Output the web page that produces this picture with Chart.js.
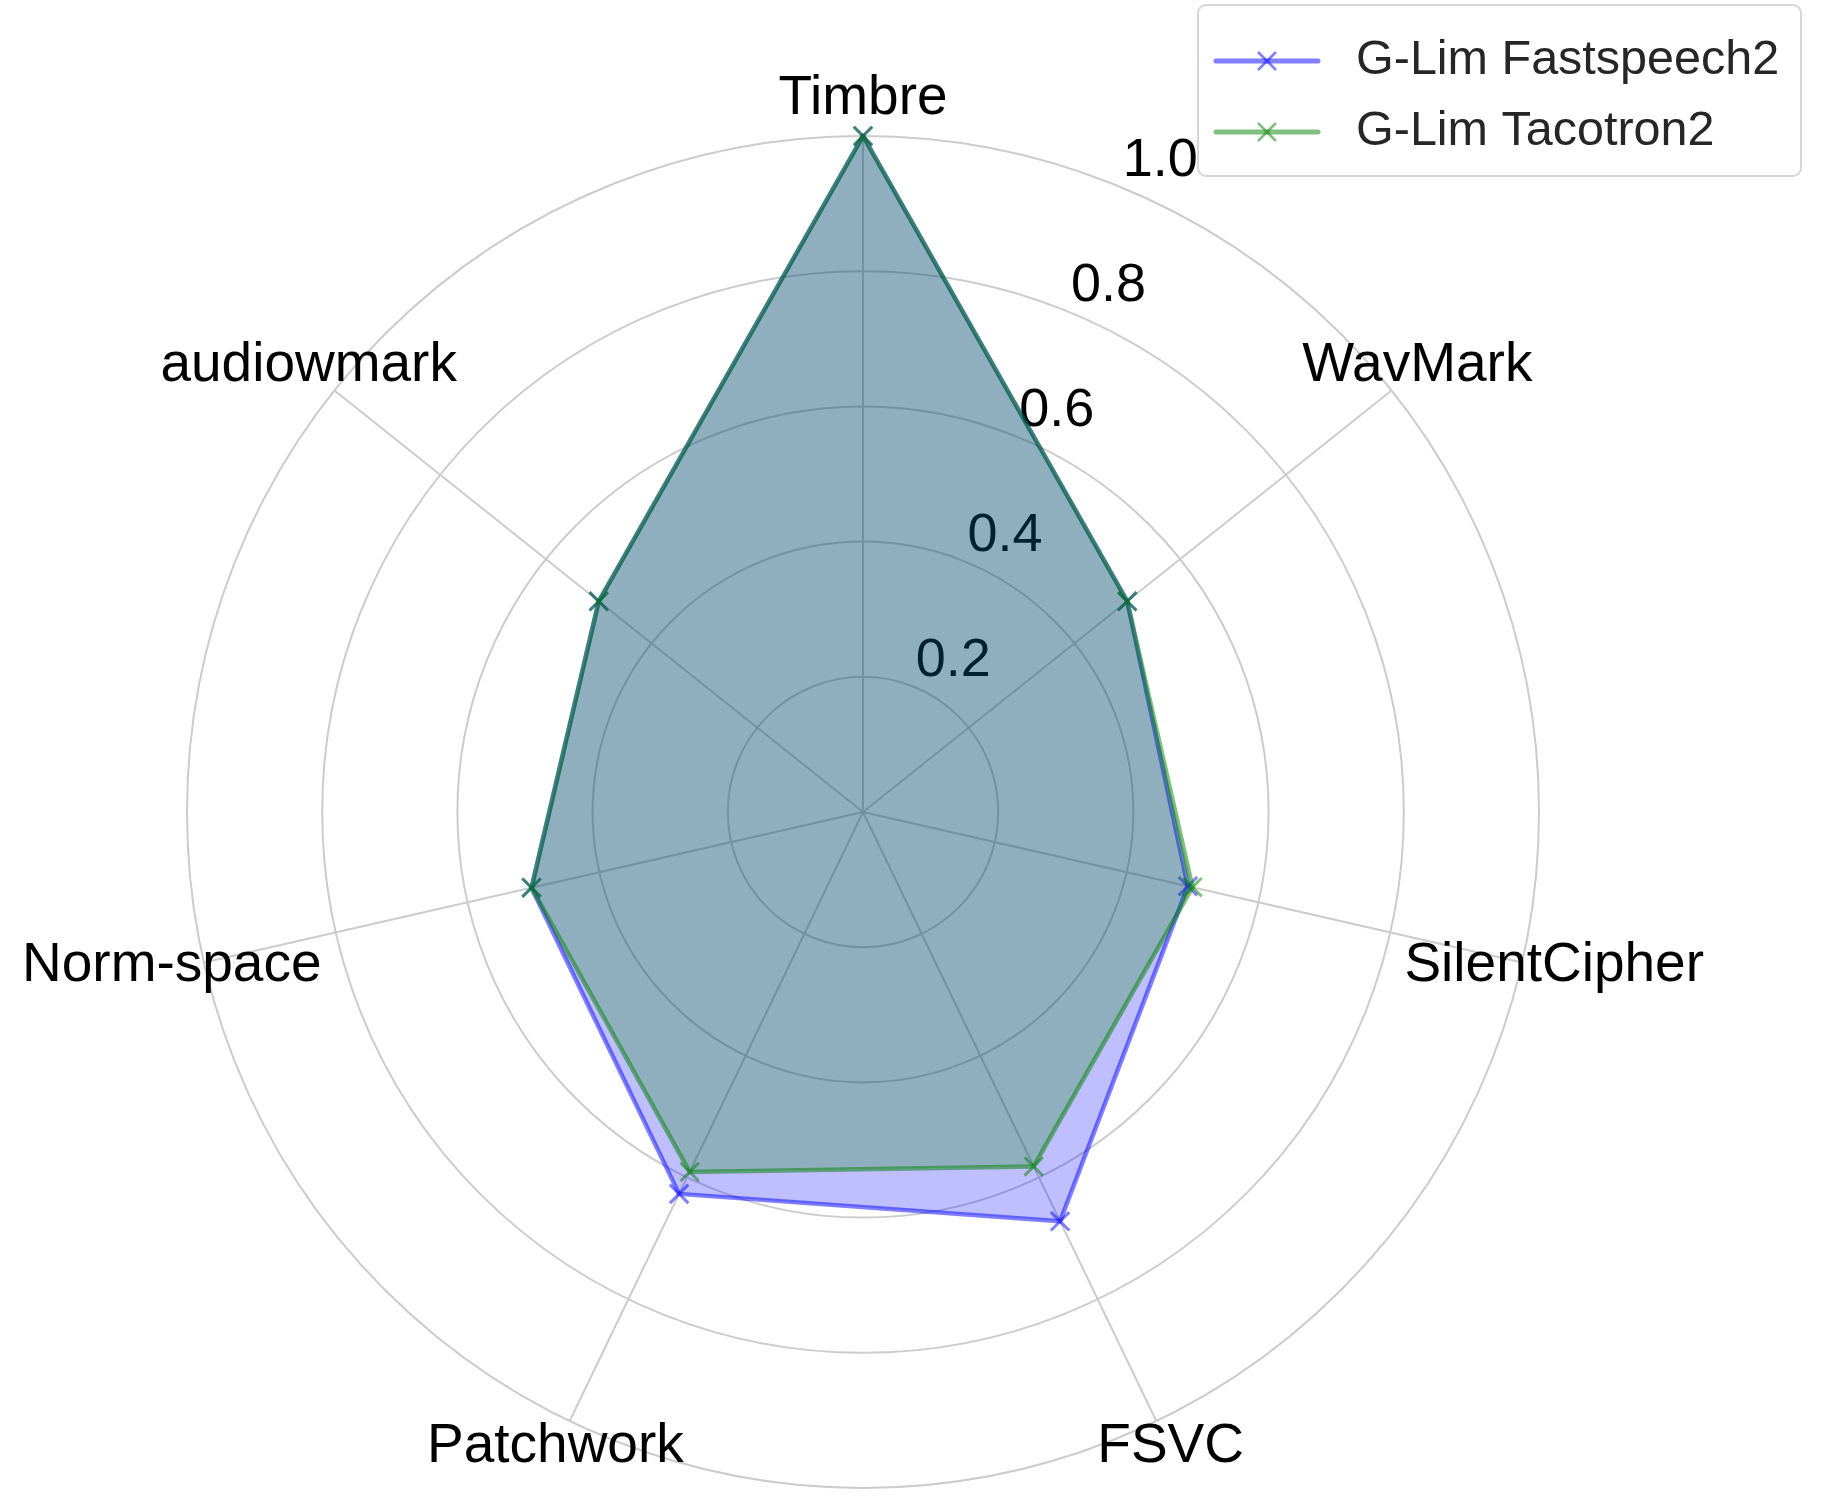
<!DOCTYPE html>
<html>
<head>
    <title>Radar</title>
    <script src="https://cdn.jsdelivr.net/npm/chart.js"></script>
    <style>
        html, body { margin: 0; padding: 0; background: #ffffff; }
        #wrap { width: 1824px; height: 1511px; }
    </style>
</head>
<body>
<div id="wrap">
    <canvas id="radarChart" width="1824" height="1511"></canvas>
</div>
<script>
    // data
    const categories = ['Timbre', 'WavMark', 'SilentCipher', 'FSVC', 'Patchwork', 'Norm-space', 'audiowmark'];
    const fastspeech2 = [1.0, 0.50, 0.493, 0.672, 0.627, 0.503, 0.50];
    const tacotron2 = [1.0, 0.50, 0.50, 0.582, 0.591, 0.503, 0.50];
    const tickValues = [0.2, 0.4, 0.6, 0.8, 1.0];
    const tickLabels = ['0.2', '0.4', '0.6', '0.8', '1.0'];
    const seriesNames = ['G-Lim Fastspeech2', 'G-Lim Tacotron2'];

    const FONT = '"Liberation Sans", Arial, sans-serif';

    // ticks + category labels drawn before the fills (fills sit on top, like matplotlib)
    const labelsPlugin = {
        id: 'mplLabels',
        beforeDatasetsDraw(chart) {
            const ctx = chart.ctx;
            const r = chart.scales.r;
            ctx.save();
            ctx.fillStyle = '#000000';

            // radial tick labels along 22.5 deg
            ctx.font = '54px ' + FONT;
            const a = -Math.PI / 2 + Math.PI / 8;
            ctx.textAlign = 'left';
            ctx.textBaseline = 'alphabetic';
            tickValues.forEach((v, i) => {
                const d = r.getDistanceFromCenterForValue(v);
                const x = r.xCenter + Math.cos(a) * d;
                const y = r.yCenter + Math.sin(a) * d;
                ctx.fillText(tickLabels[i], x + 1, y - 11);
            });

            // category labels, centred just outside the outer ring
            ctx.font = '55px ' + FONT;
            ctx.textAlign = 'center';
            ctx.textBaseline = 'middle';
            categories.forEach((c, i) => {
                const p = r.getPointPosition(i, r.drawingArea + 33);
                ctx.fillText(c, p.x, p.y - 4);
            });
            ctx.restore();
        }
    };

    const legendPlugin = {
        id: 'mplLegend',
        afterDraw(chart) {
            const ctx = chart.ctx;
            ctx.save();
            // frame
            const bx = 1198, by = 5, bw = 603, bh = 171;
            ctx.beginPath();
            ctx.roundRect(bx, by, bw, bh, 8);
            ctx.fillStyle = 'rgba(255,255,255,0.8)';
            ctx.fill();
            ctx.lineWidth = 2;
            ctx.strokeStyle = '#d6d6d6';
            ctx.stroke();

            const rows = [61, 132];
            chart.data.datasets.forEach((ds, i) => {
                const y = rows[i];
                ctx.strokeStyle = ds.borderColor;
                ctx.lineWidth = 5;
                ctx.lineCap = 'round';
                ctx.beginPath();
                ctx.moveTo(1216, y);
                ctx.lineTo(1318, y);
                ctx.stroke();
                // x marker
                ctx.lineWidth = 2.5;
                ctx.lineCap = 'butt';
                ctx.beginPath();
                ctx.moveTo(1267 - 9, y - 9);
                ctx.lineTo(1267 + 9, y + 9);
                ctx.moveTo(1267 - 9, y + 9);
                ctx.lineTo(1267 + 9, y - 9);
                ctx.stroke();

                ctx.fillStyle = '#262626';
                ctx.font = '48.5px ' + FONT;
                ctx.textAlign = 'left';
                ctx.textBaseline = 'middle';
                ctx.fillText(ds.label, 1356, y);
            });
            ctx.restore();
        }
    };

    const blueLine = 'rgba(0, 0, 255, 0.5)';
    const blueFill = 'rgba(0, 0, 255, 0.25)';
    const greenLine = 'rgba(0, 128, 0, 0.5)';
    const greenFill = 'rgba(0, 128, 0, 0.25)';

    const data = {
        labels: categories,
        datasets: [
            {
                label: seriesNames[0],
                data: fastspeech2,
                borderColor: blueLine,
                backgroundColor: blueFill,
                borderWidth: 4.5,
                borderJoinStyle: 'round',
                fill: true,
                pointStyle: 'crossRot',
                pointRadius: 13,
                pointBorderWidth: 3,
                pointBorderColor: blueLine,
                pointBackgroundColor: blueLine,
                order: 1
            },
            {
                label: seriesNames[1],
                data: tacotron2,
                borderColor: greenLine,
                backgroundColor: greenFill,
                borderWidth: 4.5,
                borderJoinStyle: 'round',
                fill: true,
                pointStyle: 'crossRot',
                pointRadius: 13,
                pointBorderWidth: 3,
                pointBorderColor: greenLine,
                pointBackgroundColor: greenLine,
                order: 0
            }
        ]
    };

    new Chart(document.getElementById('radarChart').getContext('2d'), {
        type: 'radar',
        data: data,
        plugins: [labelsPlugin, legendPlugin],
        options: {
            responsive: false,
            animation: false,
            events: [],
            layout: {
                padding: { top: 136, bottom: 23, left: 187, right: 285 }
            },
            plugins: {
                legend: { display: false },
                tooltip: { enabled: false }
            },
            elements: {
                line: { tension: 0 }
            },
            scales: {
                r: {
                    min: 0,
                    max: 1,
                    ticks: { stepSize: 0.2, display: false },
                    pointLabels: { display: false },
                    grid: { circular: true, color: '#cccccc', lineWidth: 2 },
                    angleLines: { color: '#cccccc', lineWidth: 2 }
                }
            }
        }
    });
</script>
</body>
</html>
